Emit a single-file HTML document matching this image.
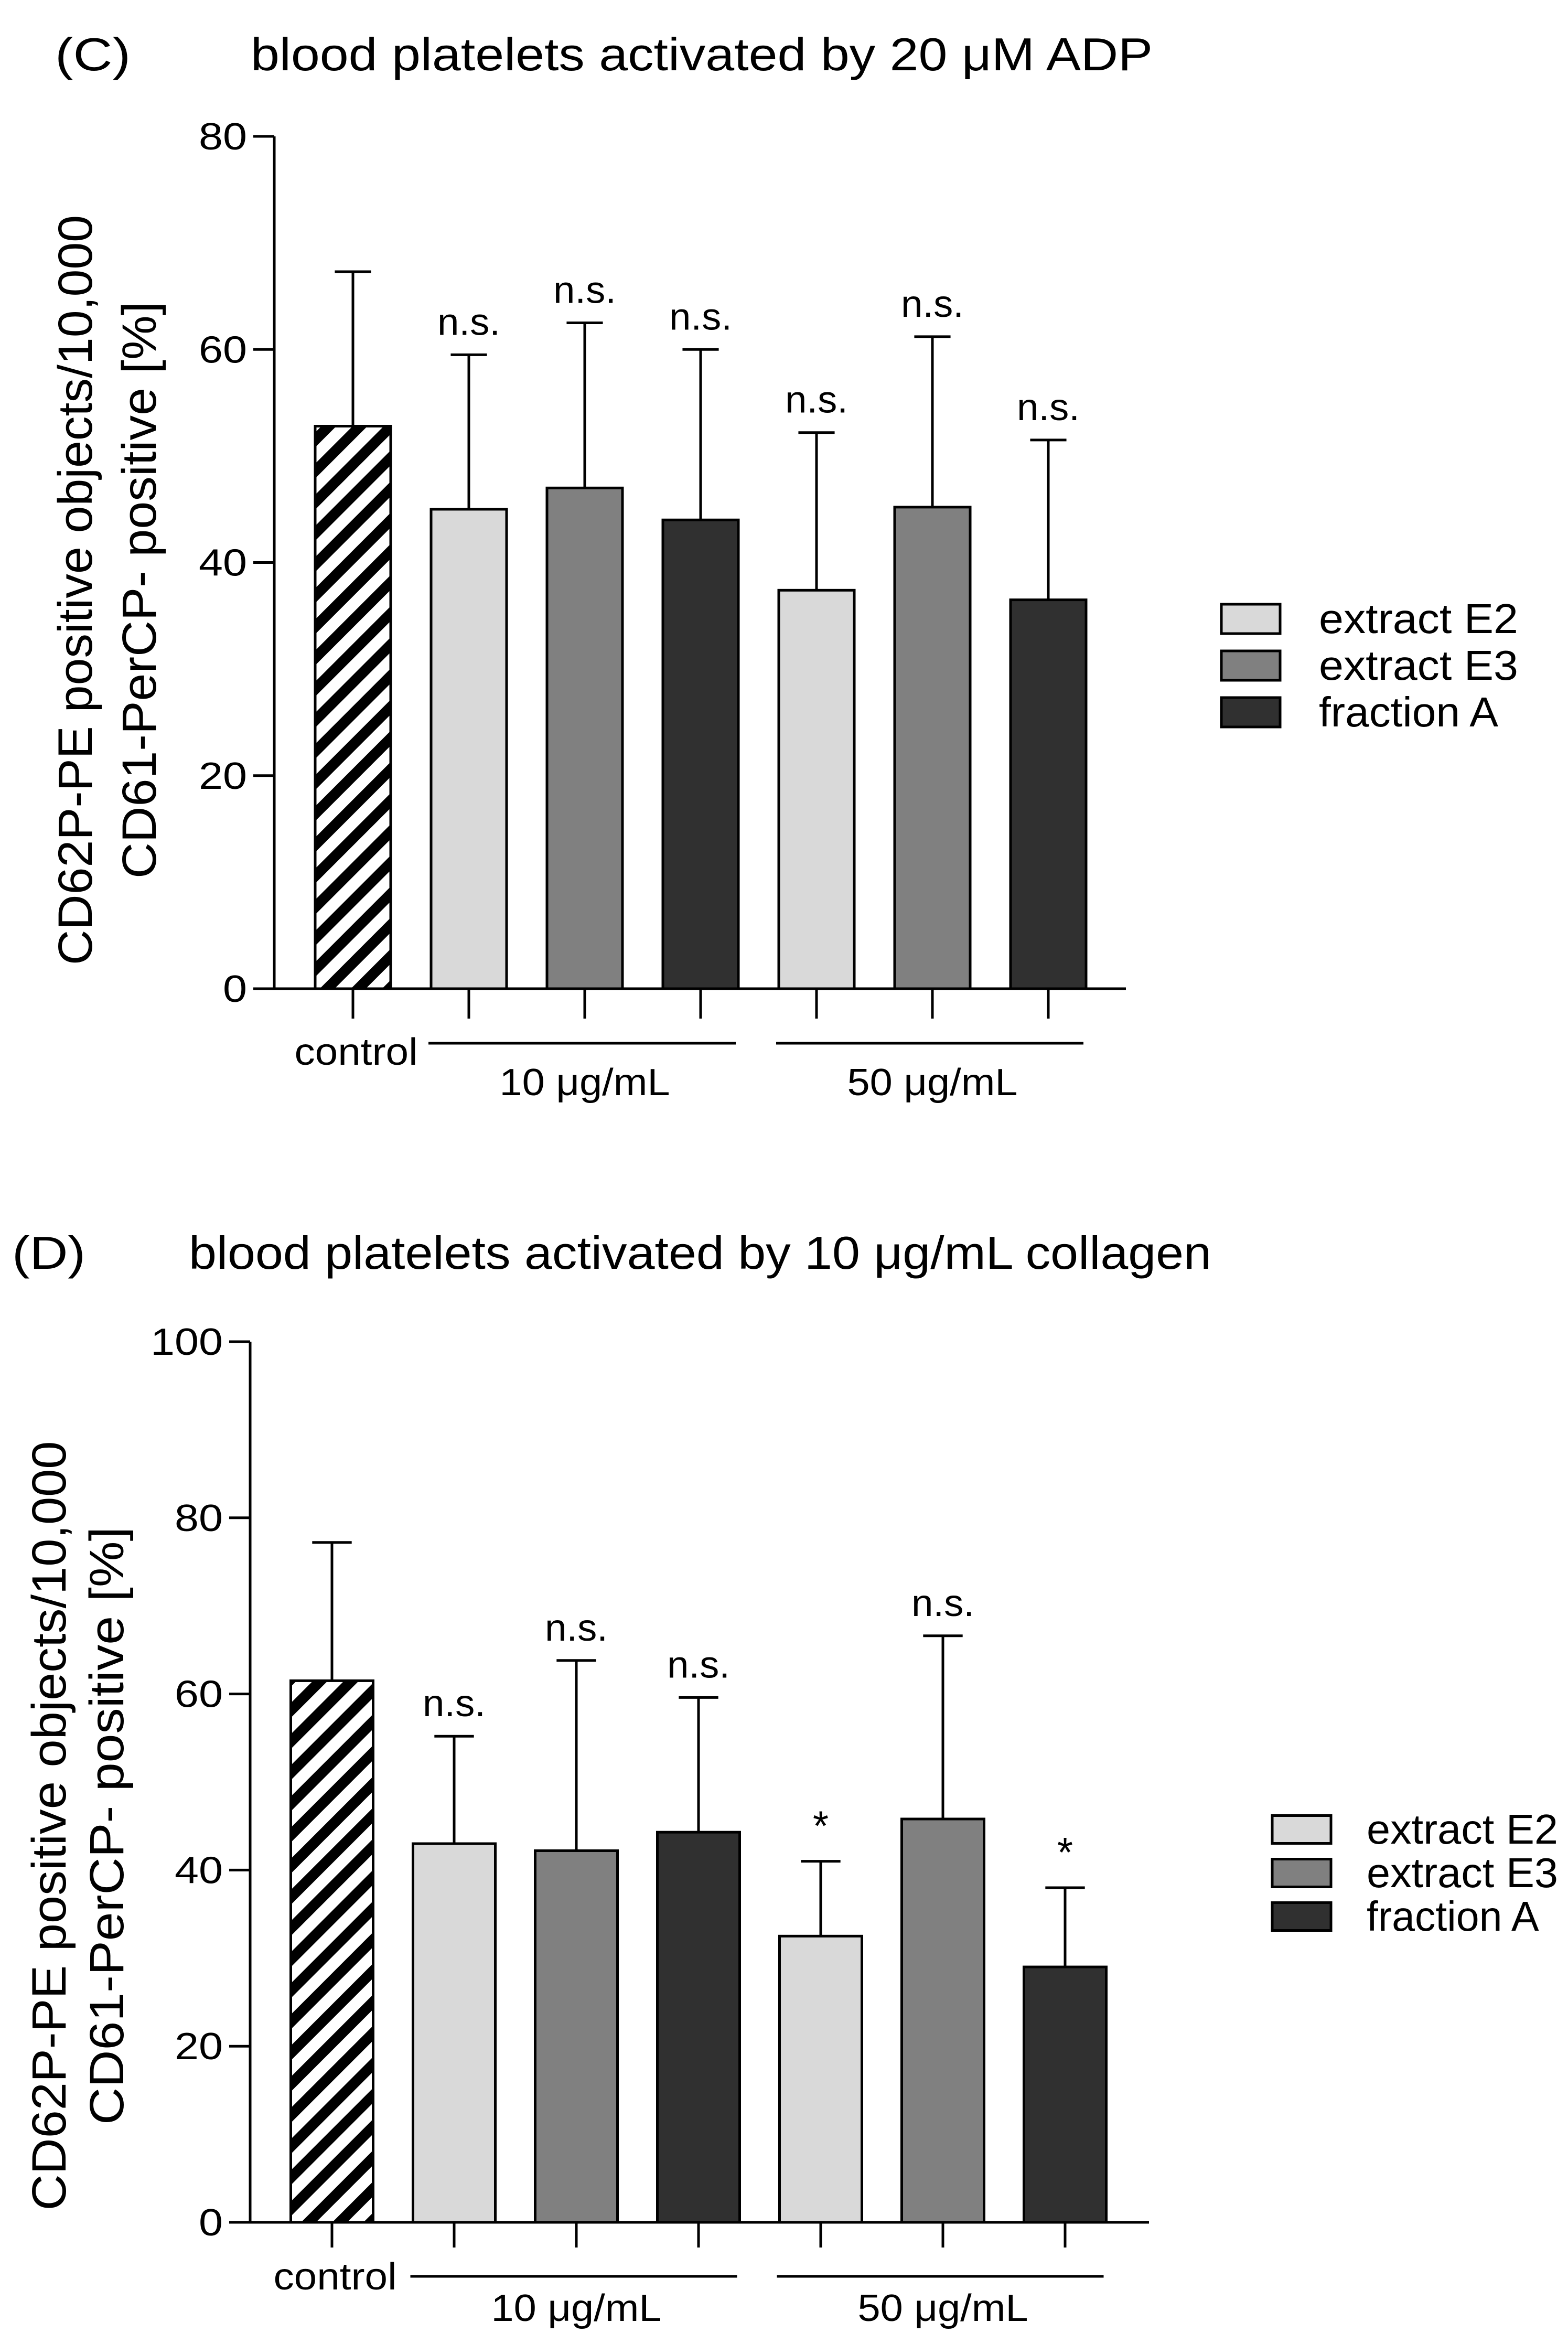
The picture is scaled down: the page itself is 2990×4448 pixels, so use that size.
<!DOCTYPE html>
<html><head><meta charset="utf-8"><style>
html,body{margin:0;padding:0;background:#fff;}
svg{display:block;font-family:"Liberation Sans",sans-serif;}
</style></head><body>
<svg id="fig" width="2990" height="4448" viewBox="0 0 2990 4448" xmlns="http://www.w3.org/2000/svg">
<defs>
<pattern id="hatch" patternUnits="userSpaceOnUse" width="42" height="42" patternTransform="rotate(45)">
<rect x="0" y="0" width="42" height="42" fill="#fff"/>
<rect x="0" y="0" width="20" height="42" fill="#000"/>
</pattern>
</defs>
</svg>
<script>
const categories = ["control","E2 10","E3 10","A 10","E2 50","E3 50","A 50"];
const seriesType = ["control","E2","E3","A","E2","E3","A"];
const meanC = [52.8,45.0,47.0,44.0,37.4,45.2,36.5];
const errTopC = [67.3,59.5,62.5,60.0,52.2,61.2,51.5];
const sigC = ["","n.s.","n.s.","n.s.","n.s.","n.s.","n.s."];
const ticksC = [0,20,40,60,80];
const meanD = [61.5,43.0,42.2,44.3,32.5,45.8,29.0];
const errTopD = [77.2,55.2,63.8,59.6,41.0,66.6,38.0];
const sigD = ["","n.s.","n.s.","n.s.","*","n.s.","*"];
const ticksD = [0,20,40,60,80,100];
const legendLabels = ["extract E2","extract E3","fraction A"];

const svg = document.getElementById('fig');
const NS = "http://www.w3.org/2000/svg";
const fills = {control:"url(#hatch)",E2:"#d9d9d9",E3:"#808080",A:"#303030"};
function mk(tag, attrs, parent){
  const e = document.createElementNS(NS, tag);
  for (const k in attrs) e.setAttribute(k, attrs[k]);
  (parent||svg).appendChild(e);
  return e;
}
function txt(s, attrs, parent){ const t = mk('text', attrs, parent); t.textContent = s; return t; }

function panel(cfg){
  const g = mk('g', {});
  
  
  const yMax = cfg.ticks[cfg.ticks.length-1];
  const yS = v => cfg.y0 - (cfg.y0 - cfg.yTop) * v / yMax;
  const xS = i => cfg.x0c + i * cfg.step;
  let t = txt(cfg.letter, {x:cfg.letterX, y:cfg.titleY, 'font-size':88, textLength:cfg.letterW, lengthAdjust:'spacingAndGlyphs'}, g);
   
  t = txt(cfg.title, {x:cfg.titleX, y:cfg.titleY, 'font-size':88, textLength:cfg.titleW, lengthAdjust:'spacingAndGlyphs'}, g);
   
  const yl = mk('g', {transform:`translate(${cfg.ylX},${cfg.ylY}) rotate(-90)`}, g);
   
  txt("CD62P-PE positive objects/10,000", {x:0, y:0, 'text-anchor':'middle', 'font-size':92, textLength:cfg.ylW1, lengthAdjust:'spacingAndGlyphs'}, yl);
  txt("CD61-PerCP- positive [%]", {x:0, y:cfg.ylGap, 'text-anchor':'middle', 'font-size':92, textLength:cfg.ylW2, lengthAdjust:'spacingAndGlyphs'}, yl);
  categories.forEach((c,i)=>{
    const m = cfg.mean[i], e = cfg.err[i], cx = xS(i);
    const er = mk('g', {stroke:'#000','stroke-width':5}, g);
     
    mk('line',{x1:cx,x2:cx,y1:yS(m),y2:yS(e)},er);
    mk('line',{x1:cx-cfg.bw*0.24,x2:cx+cfg.bw*0.24,y1:yS(e),y2:yS(e)},er);
    const r = mk('rect',{x:cx-cfg.bw/2,y:yS(m),width:cfg.bw,height:yS(0)-yS(m),fill:fills[seriesType[i]],stroke:'#000','stroke-width':5},g);
    
    
    if (cfg.sig[i]){
      const s = txt(cfg.sig[i], {x:cx, y:yS(e)-(cfg.sig[i]==="*"?40:38), 'text-anchor':'middle', 'font-size':cfg.sig[i]==="*"?80:72, textLength:cfg.sig[i]==="*"?30:120, lengthAdjust:'spacingAndGlyphs'}, g);
       
    }
    mk('line',{x1:cx,x2:cx,y1:yS(0),y2:cfg.tickBot,stroke:'#000','stroke-width':5},g);
  });
  const ax = mk('g',{stroke:'#000','stroke-width':5},g);
   
  mk('line',{x1:cfg.ax,x2:cfg.ax,y1:yS(yMax),y2:yS(0)},ax);
  mk('line',{x1:cfg.ax,x2:cfg.axEnd,y1:yS(0),y2:yS(0)},ax);
  cfg.ticks.forEach(v=>{
    mk('line',{x1:cfg.ax-40,x2:cfg.ax,y1:yS(v),y2:yS(v)},ax);
    const l = txt(String(v), {x:cfg.ax-52, y:yS(v)+25, 'text-anchor':'end', 'font-size':72, textLength:String(v).length*46, lengthAdjust:'spacingAndGlyphs'}, g);
     
  });
  let c = txt("control", {x:xS(0)+6, y:cfg.ctrlY, 'text-anchor':'middle', 'font-size':72, textLength:235, lengthAdjust:'spacingAndGlyphs'}, g);
   
  [[1,3,"10 μg/mL"],[4,6,"50 μg/mL"]].forEach(([a,b,s])=>{
    const l = mk('line',{x1:xS(a)-cfg.bw/2-5,x2:xS(b)+cfg.bw/2-5,y1:cfg.grpY,y2:cfg.grpY,stroke:'#000','stroke-width':5},g);
     
    const tt = txt(s,{x:(xS(a)+xS(b))/2, y:cfg.grpTxtY,'text-anchor':'middle','font-size':72, textLength:325, lengthAdjust:'spacingAndGlyphs'},g);
     
  });
  const lg = mk('g',{},g);
   
  legendLabels.forEach((s,i)=>{
    const cy = cfg.legY + i*cfg.legStep;
    const k = ["E2","E3","A"][i];
    const r = mk('rect',{x:cfg.legX,y:cy-cfg.legH/2,width:112,height:cfg.legH,fill:fills[k],stroke:'#000','stroke-width':5},lg);
     
    const tt = txt(s,{x:cfg.legX+cfg.legTx,y:cy+27,'font-size':80, textLength:i==2?cfg.legW*0.9:cfg.legW, lengthAdjust:'spacingAndGlyphs'},lg);
     
  });
}

panel({name:'panel-c', letter:'(C)', letterX:105, letterW:144, title:'blood platelets activated by 20 μM ADP', titleX:478, titleW:1720, titleY:134,
  mean:meanC, err:errTopC, sig:sigC, ticks:ticksC, yTop:260, y0:1885, ax:523, axEnd:2147,
  x0c:673, step:221, bw:144, tickBot:1942, grpY:1989, ctrlY:2030, grpTxtY:2088,
  ylX:175, ylY:1125, ylGap:122, ylW1:1430, ylW2:1100,
  legX:2329, legY:1180, legStep:89, legH:56, legTx:186, legW:380});
panel({name:'panel-d', letter:'(D)', letterX:23, letterW:140, title:'blood platelets activated by 10 μg/mL collagen', titleX:360, titleW:1950, titleY:2419,
  mean:meanD, err:errTopD, sig:sigD, ticks:ticksD, yTop:2558, y0:4237, ax:477, axEnd:2191,
  x0c:633, step:233, bw:157, tickBot:4285, grpY:4340, ctrlY:4365, grpTxtY:4425,
  ylX:125, ylY:3481, ylGap:110, ylW1:1467, ylW2:1140,
  legX:2426, legY:3488, legStep:83, legH:53, legTx:180, legW:365});
</script>
</body></html>
